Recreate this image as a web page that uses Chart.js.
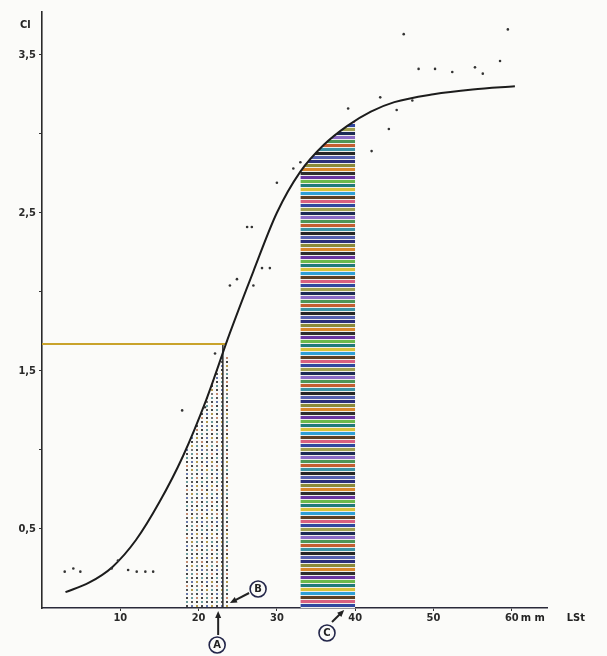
<!DOCTYPE html>
<html>
<head>
<meta charset="utf-8">
<script src="https://cdn.jsdelivr.net/npm/chart.js@4"></script>
<style>
  body { margin: 0; background: #fbfbf9; }
  canvas { display: block; }
</style>
</head>
<body>
<canvas id="grafica" width="607" height="656"></canvas>
<script>
// datos (x = LSt en mm, y = Cl)
const curvaX = [3, 6, 9, 12, 15, 18, 21, 24, 27, 30, 33, 36, 39, 42, 45, 50, 55, 60.4];
const curvaY = [0.10, 0.16, 0.26, 0.43, 0.67, 0.96, 1.32, 1.74, 2.13, 2.50, 2.76, 2.93, 3.05, 3.14, 3.20, 3.25, 3.28, 3.30];

const puntosX = [2.9, 4.0, 4.9, 8.9, 9.7, 11.0, 12.1, 13.2, 14.2, 17.9, 20.8, 22.1, 24.0, 24.9, 26.2, 26.8, 27.0, 28.1, 29.1, 30.0, 32.1, 33.0, 39.1, 42.1, 43.2, 44.3, 45.3, 46.2, 47.3, 48.1, 50.2, 52.4, 55.3, 56.3, 58.5, 59.5];
const puntosY = [0.23, 0.25, 0.23, 0.25, 0.30, 0.24, 0.23, 0.23, 0.23, 1.25, 1.27, 1.61, 2.04, 2.08, 2.41, 2.41, 2.04, 2.15, 2.15, 2.69, 2.78, 2.82, 3.16, 2.89, 3.23, 3.03, 3.15, 3.63, 3.21, 3.41, 3.41, 3.39, 3.42, 3.38, 3.46, 3.66];

// zona punteada (A) y zona rayada (C), bajo la curva
const punteadoX = [18, 19, 20, 21, 22, 23, 24];
const punteadoY = [0.96, 1.07, 1.19, 1.32, 1.46, 1.60, 1.60];
const rayadoX = [33, 34, 35, 36, 37, 38, 39, 40];
const rayadoY = [2.76, 2.82, 2.88, 2.93, 2.97, 3.01, 3.05, 3.08];

const nivelA = 1.67;   // linea horizontal
const posA = 23.1;     // linea vertical

const xTicks = [10, 20, 30, 40, 50, 60];
const xTickLabels = ["10", "20", "30", "40", "50", "60"];
const yTicks = [0.5, 1, 1.5, 2, 2.5, 3, 3.5];
const yTickLabels = ["0,5", "", "1,5", "", "2,5", "", "3,5"];

function pares(xs, ys) {
    return xs.map((x, i) => ({ x: x, y: ys[i] }));
}

// patron de rayas de colores
const coloresRaya = ["#2b2f7a", "#8a8a3a", "#d9862a", "#2e2e2e", "#6a35a0", "#6cb84a", "#1f7a7a", "#d8c23a",
    "#2f9fd6", "#5e3f22", "#d8607f", "#30479f", "#a0a050", "#1b2a55", "#8a6ac4", "#4c9456", "#c45e30", "#3a92a4",
    "#262626", "#5560b0"];
const cRaya = document.createElement("canvas");
cRaya.width = 8;
cRaya.height = coloresRaya.length * 4;
const ctxR = cRaya.getContext("2d");
ctxR.fillStyle = "#eeeeea";
ctxR.fillRect(0, 0, cRaya.width, cRaya.height);
coloresRaya.forEach((c, i) => {
    ctxR.fillStyle = c;
    ctxR.fillRect(0, i * 4, 8, 3);
});

// patron de puntos
const coloresPunto = ["#444", "#6a9a9a", "#555", "#b39a50", "#4a4a4a", "#6878a8", "#777", "#c08a70"];
const cPunto = document.createElement("canvas");
cPunto.width = 15;
cPunto.height = 24;
const ctxP = cPunto.getContext("2d");
let k = 0;
for (let fy = 0; fy < 24; fy += 4) {
    for (let fx = 0; fx < 15; fx += 5) {
        ctxP.fillStyle = coloresPunto[k % coloresPunto.length];
        ctxP.fillRect(fx + 1, fy + 1, 2, 2);
        k++;
    }
}

const ctx = document.getElementById("grafica").getContext("2d");
const patronRaya = ctx.createPattern(cRaya, "repeat");
const patronPunto = ctx.createPattern(cPunto, "repeat");

const fondo = {
    id: "fondo",
    beforeDraw(chart) {
        const c = chart.ctx;
        c.save();
        c.fillStyle = "#fbfbf9";
        c.fillRect(0, 0, chart.width, chart.height);
        c.restore();
    }
};

function circulo(c, x, y, letra) {
    c.beginPath();
    c.arc(x, y, 8, 0, Math.PI * 2);
    c.fillStyle = "#fbfbf9";
    c.fill();
    c.lineWidth = 1.6;
    c.strokeStyle = "#23264a";
    c.stroke();
    c.fillStyle = "#222";
    c.font = "bold 10px 'DejaVu Sans'";
    c.textAlign = "center";
    c.textBaseline = "middle";
    c.fillText(letra, x, y + 0.5);
}

function flecha(c, x1, y1, x2, y2) {
    const ang = Math.atan2(y2 - y1, x2 - x1);
    c.beginPath();
    c.moveTo(x1, y1);
    c.lineTo(x2 - 4 * Math.cos(ang), y2 - 4 * Math.sin(ang));
    c.lineWidth = 2;
    c.strokeStyle = "#222";
    c.stroke();
    c.beginPath();
    c.moveTo(x2, y2);
    c.lineTo(x2 - 7 * Math.cos(ang) + 3 * Math.sin(ang), y2 - 7 * Math.sin(ang) - 3 * Math.cos(ang));
    c.lineTo(x2 - 7 * Math.cos(ang) - 3 * Math.sin(ang), y2 - 7 * Math.sin(ang) + 3 * Math.cos(ang));
    c.closePath();
    c.fillStyle = "#222";
    c.fill();
}

// letras A, B, C y textos de los ejes
const anotaciones = {
    id: "anotaciones",
    afterDraw(chart) {
        const c = chart.ctx;
        const sx = chart.scales.x;
        const sy = chart.scales.y;
        const base = sy.getPixelForValue(0);
        c.save();
        c.fillStyle = "#222";
        c.font = "bold 11px 'DejaVu Sans Condensed', 'DejaVu Sans'";
        c.textAlign = "left";
        c.textBaseline = "middle";
        c.fillText("Cl", 20, 25);
        const p60 = sx.getPixelForValue(60);
        c.fillText("m m", p60 + 9, base + 10);
        c.fillText("LSt", p60 + 55, base + 10);

        // A
        const xa = sx.getPixelForValue(22.5);
        flecha(c, xa, base + 27, xa, base + 3);
        circulo(c, xa - 1, base + 37, "A");
        // B
        const xb = sx.getPixelForValue(27.6);
        flecha(c, xb - 9, base - 15, sx.getPixelForValue(24), base - 5);
        circulo(c, xb, base - 19, "B");
        // C
        const xc = sx.getPixelForValue(36.4);
        flecha(c, xc + 5, base + 14, sx.getPixelForValue(38.6), base + 2);
        circulo(c, xc, base + 25, "C");
        c.restore();
    }
};

const fuente = { family: "'DejaVu Sans Condensed', 'DejaVu Sans'", size: 11, weight: "bold" };

new Chart(ctx, {
    type: "scatter",
    data: {
        datasets: [
            {
                label: "curva",
                data: pares(curvaX, curvaY),
                showLine: true,
                borderColor: "#1c1c1c",
                borderWidth: 2,
                pointRadius: 0,
                cubicInterpolationMode: "monotone",
                order: 1
            },
            {
                label: "puntos",
                data: pares(puntosX, puntosY),
                pointRadius: 1.3,
                pointBackgroundColor: "#333",
                pointBorderWidth: 0,
                order: 0
            },
            {
                label: "rayado",
                data: pares(rayadoX, rayadoY),
                showLine: true,
                borderWidth: 0,
                pointRadius: 0,
                fill: "origin",
                backgroundColor: patronRaya,
                cubicInterpolationMode: "monotone",
                order: 3
            },
            {
                label: "punteado",
                data: pares(punteadoX, punteadoY),
                showLine: true,
                borderWidth: 0,
                pointRadius: 0,
                fill: "origin",
                backgroundColor: patronPunto,
                order: 3
            },
            {
                label: "horizontal",
                data: [{ x: 0, y: nivelA }, { x: 23.5, y: nivelA }],
                showLine: true,
                borderColor: "#c9a32c",
                borderWidth: 2,
                pointRadius: 0,
                order: 2
            },
            {
                label: "vertical",
                data: [{ x: posA, y: 0 }, { x: posA, y: nivelA }],
                showLine: true,
                borderColor: "#2a2a2a",
                borderWidth: 1.5,
                pointRadius: 0,
                order: 2
            }
        ]
    },
    options: {
        responsive: false,
        animation: false,
        layout: { padding: { top: 12, right: 60, left: 0, bottom: 0 } },
        plugins: {
            legend: { display: false },
            tooltip: { enabled: false }
        },
        scales: {
            x: {
                type: "linear",
                min: 0,
                max: 64.5,
                afterFit: (s) => { s.height = 48; },
                afterBuildTicks: (s) => { s.ticks = xTicks.map(v => ({ value: v })); },
                grid: { drawOnChartArea: false, tickLength: 3, color: "#333" },
                border: { color: "#2a2a3a", width: 1.6 },
                ticks: {
                    padding: 1,
                    color: "#2a2a2a",
                    font: fuente,
                    maxRotation: 0,
                    callback: (v) => xTickLabels[xTicks.indexOf(v)]
                }
            },
            y: {
                min: 0,
                max: 3.77,
                afterFit: (s) => { s.width = 42; },
                afterBuildTicks: (s) => { s.ticks = yTicks.map(v => ({ value: v })); },
                grid: { drawOnChartArea: false, tickLength: 3, color: "#333" },
                border: { color: "#2a2a2a", width: 1.6 },
                ticks: {
                    padding: 3,
                    color: "#2a2a2a",
                    font: fuente,
                    callback: (v) => yTickLabels[yTicks.indexOf(v)]
                }
            }
        }
    },
    plugins: [fondo, anotaciones]
});
</script>
</body>
</html>
